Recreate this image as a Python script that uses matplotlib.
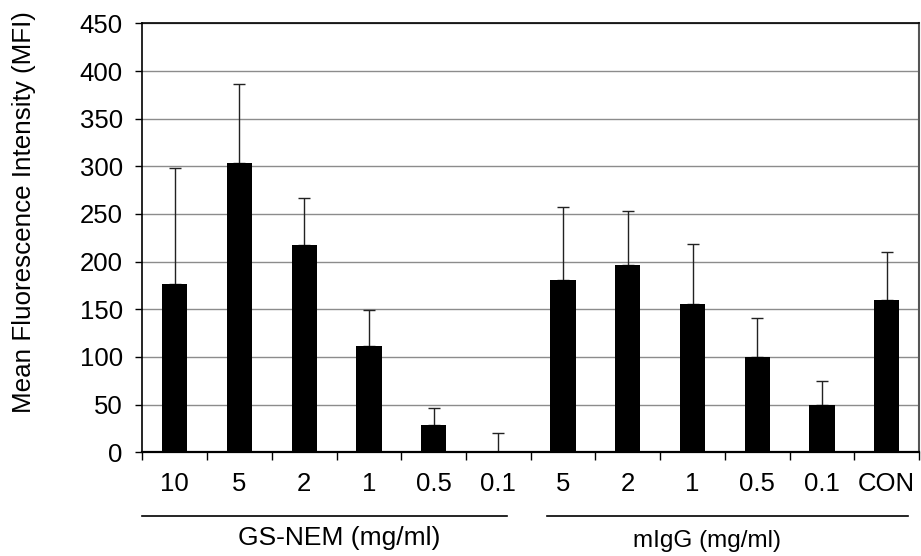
import matplotlib
matplotlib.use("Agg")
import matplotlib.pyplot as plt
import matplotlib.transforms as mtransforms
import numpy as np

plt.rcParams['font.family'] = ['Liberation Sans', 'DejaVu Sans']

categories = ["10", "5", "2", "1", "0.5", "0.1", "5", "2", "1", "0.5", "0.1", "CON"]
mfi_values = [177, 303, 218, 112, 29, 0, 181, 197, 156, 100, 50, 160]
error_upper = [121, 83, 49, 37, 18, 20, 76, 56, 63, 41, 25, 50]
group_names = ["GS-NEM (mg/ml)", "mIgG (mg/ml)"]

fig = plt.figure(figsize=(9.21, 5.56), dpi=100)
ax = fig.add_axes([0.1545, 0.1865, 0.8435, 0.7715])

x = np.arange(len(categories))
ax.bar(x, mfi_values, width=0.39, color='black', zorder=3)
ax.errorbar(x, mfi_values, yerr=[np.zeros(len(x)), error_upper], fmt='none',
            ecolor='#222222', elinewidth=1.0, capsize=4, capthick=1.0, zorder=2)

ax.set_xlim(-0.5, len(categories) - 0.5)
ax.set_ylim(0, 450)
ax.set_yticks(np.arange(0, 451, 50))
ax.yaxis.grid(True, color='#8c8c8c', linewidth=1.0, zorder=0)
ax.set_axisbelow(True)

ax.set_xticks(x)
ax.set_xticklabels(categories, fontsize=18.5)
ax.tick_params(axis='x', which='major', length=0, pad=14)
ax.set_xticks(np.arange(-0.5, len(categories)), minor=True)
ax.tick_params(axis='x', which='minor', length=6, width=1.0, direction='out')
ax.tick_params(axis='y', labelsize=18.5, length=5, width=1.0, pad=9)

for s in ['left', 'bottom', 'top']:
    ax.spines[s].set_color('black')
    ax.spines[s].set_linewidth(1.2)
ax.spines['bottom'].set_linewidth(1.6)
ax.spines['right'].set_color('#555555')
ax.spines['right'].set_linewidth(1.5)

ax.set_ylabel("Mean Fluorescence Intensity (MFI)", fontsize=18.7)
ax.yaxis.set_label_coords(-0.137, 0.561)

trans = mtransforms.blended_transform_factory(ax.transData, ax.transAxes)
ax.plot([-0.5, 5.13], [-0.148, -0.148], transform=trans, color='black', lw=1.2, clip_on=False)
ax.plot([5.75, 11.33], [-0.148, -0.148], transform=trans, color='black', lw=1.2, clip_on=False)
ax.text(2.54, -0.2, group_names[0], transform=trans, ha='center', va='center', fontsize=19)
ax.text(8.22, -0.207, group_names[1], transform=trans, ha='center', va='center', fontsize=17.5)

fig.savefig("out.png", dpi=100)
